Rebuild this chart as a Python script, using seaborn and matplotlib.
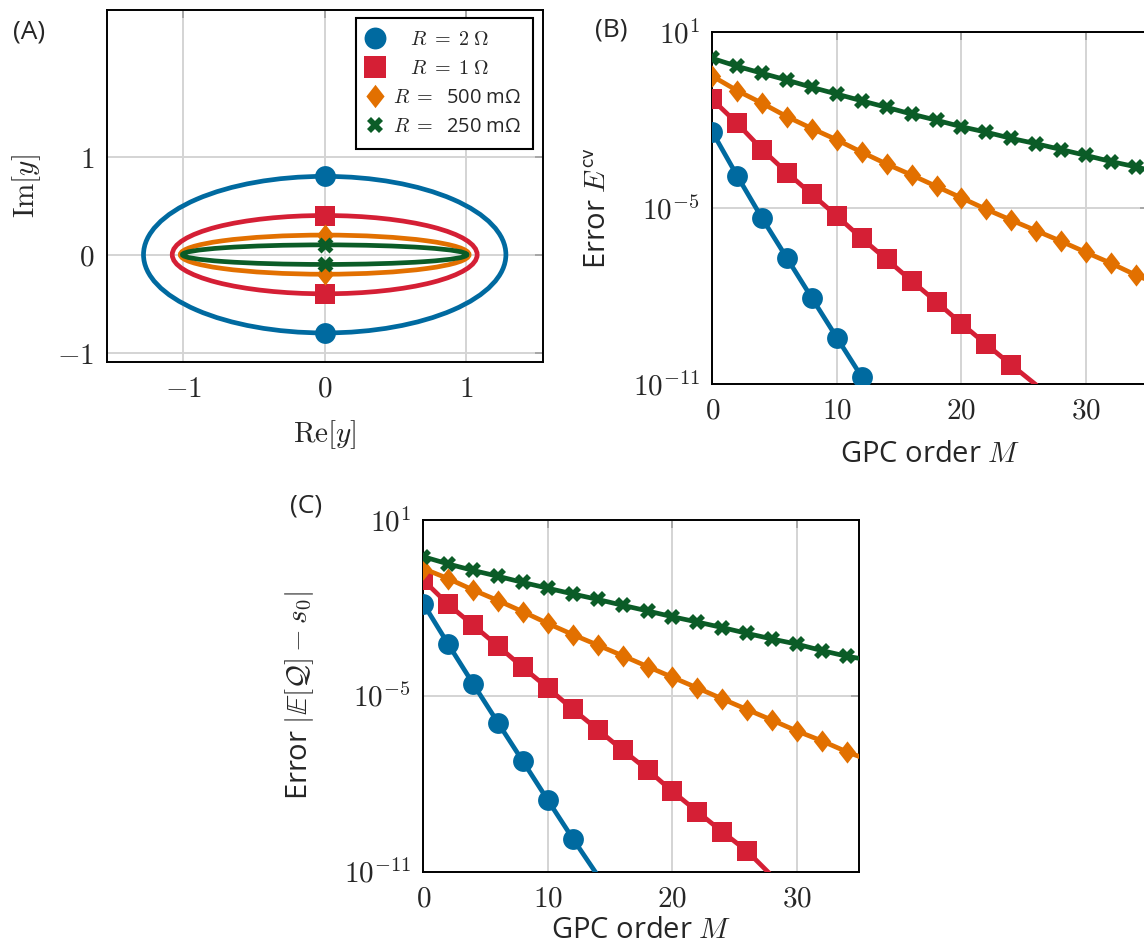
import numpy as np
import pandas as pd
import matplotlib
matplotlib.use("Agg")
import matplotlib.pyplot as plt
import seaborn as sns
from matplotlib.patches import Ellipse
from matplotlib.lines import Line2D

sns.set_style("white")
plt.rcParams["font.family"] = ["Open Sans", "DejaVu Sans"]
plt.rcParams["mathtext.fontset"] = "cm"

# ---------------- data ----------------
series_labels = [r"$\quad R\;=\;2\;\Omega$", r"$\quad R\;=\;1\;\Omega$",
                 r"$R\;=\;$ 500 mΩ", r"$R\;=\;$ 250 mΩ"]
colors = ["#006aa0", "#d51f35", "#e27000", "#0b5c27"]

# Panel A: ellipse semi-axes (real, imaginary)
semi_re = [1.28, 1.077, 1.02, 1.005]
semi_im = [0.8, 0.4, 0.2, 0.1]

# Panel B: error E^cv vs GPC order M
M_B_blue = [0, 2, 4, 6, 8, 10, 12]
E_B_blue = [4.0e-3, 1.26e-4, 4.5e-6, 1.95e-7, 8.5e-9, 3.8e-10, 1.74e-11]
M_B_red = [0, 2, 4, 6, 8, 10, 12, 14, 16, 18, 20, 22, 24, 26]
E_B_red = [5.1e-2, 7.8e-3, 1.0e-3, 1.62e-4, 2.95e-5, 5.4e-6, 9.3e-7, 1.78e-7,
           3.3e-8, 6.3e-9, 1.15e-9, 2.24e-10, 4.5e-11, 9.3e-12]
M_B_orange = [0, 2, 4, 6, 8, 10, 12, 14, 16, 18, 20, 22, 24, 26, 28, 30, 32, 34, 35]
E_B_orange = [0.32, 0.102, 3.8e-2, 1.32e-2, 5.2e-3, 2.14e-3, 8.1e-4, 3.2e-4, 1.35e-4,
              5.5e-5, 2.24e-5, 9.1e-6, 3.9e-6, 1.7e-6, 7.4e-7, 3.1e-7, 1.32e-7, 5.2e-8, 3.5e-8]
M_B_green = [0, 2, 4, 6, 8, 10, 12, 14, 16, 18, 20, 22, 24, 26, 28, 30, 32, 34, 35]
E_B_green = [1.29, 0.69, 0.40, 0.234, 0.132, 7.8e-2, 4.6e-2, 2.75e-2, 1.62e-2, 1.0e-2,
             6.0e-3, 3.9e-3, 2.4e-3, 1.58e-3, 1.0e-3, 6.3e-4, 3.9e-4, 2.57e-4, 2.0e-4]

# Panel C: error |E[Q] - s0| vs GPC order M
M_C_blue = [0, 2, 4, 6, 8, 10, 12, 14]
E_C_blue = [1.41e-2, 5.8e-4, 2.57e-5, 1.2e-6, 5.8e-8, 2.75e-9, 1.35e-10, 7.4e-12]
M_C_red = [0, 2, 4, 6, 8, 10, 12, 14, 16, 18, 20, 22, 24, 26, 28]
E_C_red = [8.9e-2, 1.32e-2, 2.57e-3, 5.0e-4, 9.3e-5, 1.86e-5, 3.5e-6, 7.1e-7, 1.41e-7,
           3.0e-8, 5.5e-9, 1.12e-9, 2.3e-10, 5.0e-11, 7.1e-12]
M_C_orange = [0, 2, 4, 6, 8, 10, 12, 14, 16, 18, 20, 22, 24, 26, 28, 30, 32, 34, 35]
E_C_orange = [0.22, 0.10, 4.1e-2, 1.78e-2, 7.4e-3, 2.95e-3, 1.23e-3, 5.4e-4, 2.34e-4, 1.0e-4,
              4.3e-5, 1.86e-5, 7.9e-6, 3.4e-6, 1.48e-6, 6.3e-7, 2.9e-7, 1.23e-7, 8.5e-8]
M_C_green = [0, 2, 4, 6, 8, 10, 12, 14, 16, 18, 20, 22, 24, 26, 28, 30, 32, 34, 35]
E_C_green = [0.56, 0.316, 0.19, 0.12, 7.4e-2, 4.7e-2, 3.0e-2, 1.95e-2, 1.23e-2, 7.9e-3,
             5.0e-3, 3.3e-3, 2.14e-3, 1.35e-3, 8.7e-4, 5.8e-4, 3.5e-4, 2.24e-4, 1.9e-4]

log_ticks = [1e1, 1e-5, 1e-11]
log_ticklabels = [r"$10^{1}$", r"$10^{-5}$", r"$10^{-11}$"]
m_ticks = [0, 10, 20, 30]
m_ticklabels = [r"$0$", r"$10$", r"$20$", r"$30$"]
a_ticks = [-1, 0, 1]
a_ticklabels = [r"$-1$", r"$0$", r"$1$"]

# ---------------- style ----------------
diamond = [(0, 1), (0.78, 0), (0, -1), (-0.78, 0), (0, 1)]
markers = ["o", "s", diamond, "X"]
msizes = [15, 14.5, 16, 11.5]
LW = 3.4
FS = 21

W, H = 1144, 948
def px_rect(l, t, r, b):
    return [l / W, 1 - b / H, (r - l) / W, (b - t) / H]

fig = plt.figure(figsize=(W / 100, H / 100), dpi=100)
axA = fig.add_axes(px_rect(106.7, 10, 542.7, 362.3))
axB = fig.add_axes(px_rect(712.3, 32.3, 1148.3, 384))
axC = fig.add_axes(px_rect(423.3, 520, 859.3, 871.7))

def style_axes(ax):
    ax.set_axisbelow(True)
    ax.grid(True, color="#d4d4d4", lw=1.4)
    ax.tick_params(which="major", direction="in", length=6, width=1.1, color="#9a9a9a",
                   labelsize=FS, pad=9, top=True, right=True)
    ax.tick_params(which="minor", length=0)
    for s in ax.spines.values():
        s.set_color("black")
        s.set_linewidth(1.4)

# ---------------- Panel A ----------------
for a, b, c in zip(semi_re, semi_im, colors):
    axA.add_patch(Ellipse((0, 0), 2 * a, 2 * b, fill=False, ec=c, lw=LW, zorder=2))
for b, c, m, ms in zip(semi_im, colors, markers, msizes):
    dfm = pd.DataFrame({"x": [0.0, 0.0], "y": [b, -b]})
    sns.scatterplot(data=dfm, x="x", y="y", ax=axA, color=c, marker=m,
                    s=ms ** 2, linewidth=0, zorder=3, legend=False)
axA.set_xlim(-1.54, 1.54)
axA.set_ylim(-1.1, 2.5)
axA.set_xticks(a_ticks)
axA.set_xticklabels(a_ticklabels)
axA.set_yticks(a_ticks)
axA.set_yticklabels(a_ticklabels)
style_axes(axA)
axA.set_xlabel(r"$\mathrm{Re}[y]$", fontsize=FS)
axA.set_ylabel(r"$\mathrm{Im}[y]$", fontsize=FS)

handles = [Line2D([], [], ls="none", marker=m, color=c, ms=ms * 1.05, mew=0)
           for m, c, ms in zip(markers, colors, msizes)]
leg = axA.legend(handles, series_labels, loc="upper right",
                 bbox_to_anchor=(533.3 / W, 1 - 17.7 / H), bbox_transform=fig.transFigure,
                 borderaxespad=0, fontsize=14.5, frameon=True, fancybox=False,
                 framealpha=1, edgecolor="black", borderpad=0.6, labelspacing=0.45,
                 handlelength=0.7, handletextpad=0.55)
leg.get_frame().set_linewidth(1.5)

# ---------------- Panels B & C ----------------
def draw_conv(ax, series):
    for (Ms, Es), c, m, ms in zip(series, colors, markers, msizes):
        df = pd.DataFrame({"M": Ms, "E": Es})
        mask = [(mm % 2 == 0) and (e >= 1e-11) for mm, e in zip(Ms, Es)]
        sns.lineplot(data=df, x="M", y="E", ax=ax, color=c, linewidth=LW, marker=m,
                     markersize=ms, markeredgewidth=0, markevery=mask, zorder=3)
    ax.set_yscale("log")
    ax.set_xlim(0, 35)
    ax.set_ylim(1e-11, 1e1)
    ax.set_xticks(m_ticks)
    ax.set_xticklabels(m_ticklabels)
    ax.set_yticks(log_ticks)
    ax.set_yticklabels(log_ticklabels)
    ax.minorticks_off()
    style_axes(ax)
    ax.set_xlabel(r"GPC order $M$", fontsize=FS)

draw_conv(axB, [(M_B_blue, E_B_blue), (M_B_red, E_B_red),
                (M_B_orange, E_B_orange), (M_B_green, E_B_green)])
draw_conv(axC, [(M_C_blue, E_C_blue), (M_C_red, E_C_red),
                (M_C_orange, E_C_orange), (M_C_green, E_C_green)])
axB.set_ylabel(r"Error $E^{\mathsf{cv}}$", fontsize=FS)
axC.set_ylabel(r"Error $|\mathbb{E}[\mathcal{Q}] - s_0|$", fontsize=FS)

# label positions (axes fraction)
axA.xaxis.set_label_coords(0.5, -0.158)
axB.xaxis.set_label_coords(0.5, -0.158)
axC.xaxis.set_label_coords(0.5, -0.127)
axA.yaxis.set_label_coords(-0.146, 0.5)
axB.yaxis.set_label_coords(-0.228, 0.5)
axC.yaxis.set_label_coords(-0.245, 0.5)

# panel letters
fig.text(12.7 / W, 1 - 32 / H, "(A)", fontsize=19, ha="left", va="center")
fig.text(595 / W, 1 - 30 / H, "(B)", fontsize=19, ha="left", va="center")
fig.text(290 / W, 1 - 506 / H, "(C)", fontsize=19, ha="left", va="center")

fig.savefig("out.png", dpi=100)
